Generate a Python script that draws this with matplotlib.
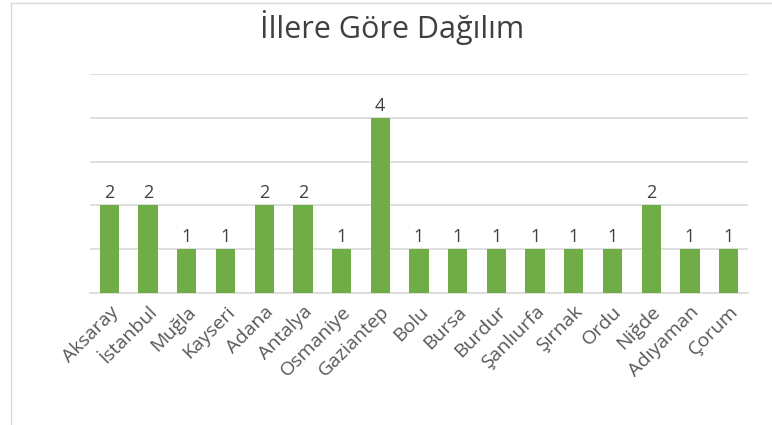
import matplotlib.pyplot as plt
from matplotlib.lines import Line2D

cities = ["Aksaray", "İstanbul", "Muğla", "Kayseri", "Adana", "Antalya", "Osmaniye",
          "Gaziantep", "Bolu", "Bursa", "Burdur", "Şanlıurfa", "Şırnak", "Ordu",
          "Niğde", "Adıyaman", "Çorum"]
counts = [2, 2, 1, 1, 2, 2, 1, 4, 1, 1, 1, 1, 1, 1, 2, 1, 1]

plt.rcParams['font.family'] = ['Open Sans', 'DejaVu Sans']

fig = plt.figure(figsize=(7.72, 4.25), dpi=100)
ax = fig.add_axes([0.1166, 0.3106, 0.8523, 0.5153])

x = range(len(cities))
ax.bar(x, counts, width=0.5, color='#70AD47', zorder=3)
for xi, v in zip(x, counts):
    ax.text(xi, v + 0.07, str(v), ha='center', va='bottom', fontsize=13, color='#404040')

ax.set_xlim(-0.5, len(cities) - 0.5)
ax.set_ylim(0, 5)
ax.set_yticks(range(6))
ax.set_yticklabels([])
ax.tick_params(axis='y', length=0)
ax.yaxis.grid(True, color='#D9D9D9', linewidth=1.2, zorder=0)
for s in ['top', 'right', 'left']:
    ax.spines[s].set_visible(False)
ax.spines['bottom'].set_color('#D9D9D9')
ax.spines['bottom'].set_linewidth(1.2)

ax.set_xticks(list(x))
ax.set_xticklabels(cities, rotation=45, ha='right', rotation_mode='anchor',
                   fontsize=14, color='#595959')
ax.tick_params(axis='x', length=0, pad=7)

fig.text(0.508, 0.935, "İllere Göre Dağılım", ha='center', va='center',
         fontsize=22, color='#404040')

# chart frame (left and top edges only)
fig.lines.append(Line2D([10.5 / 772, 10.5 / 772], [0, 1 - 2.5 / 425], transform=fig.transFigure,
                        color='#D9D9D9', linewidth=1))
fig.lines.append(Line2D([10.5 / 772, 1], [1 - 2.5 / 425, 1 - 2.5 / 425], transform=fig.transFigure,
                        color='#D9D9D9', linewidth=1))

fig.savefig("out.png", dpi=100)
